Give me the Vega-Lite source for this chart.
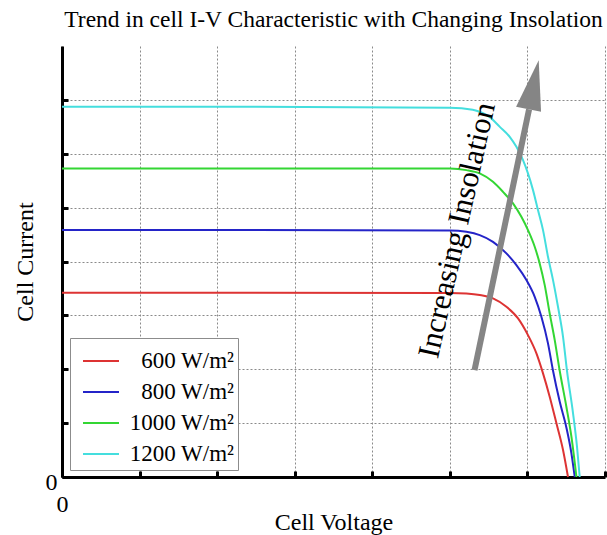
{
  "$schema": "https://vega.github.io/schema/vega-lite/v6.json",
  "width": 543,
  "height": 431,
  "autosize": "none",
  "padding": {"left": 62, "top": 46, "right": 2, "bottom": 58},
  "title": {
    "text": "Trend in cell I-V Characteristic with Changing Insolation",
    "font": "Liberation Serif",
    "fontSize": 23.5,
    "fontWeight": "normal",
    "color": "#000000",
    "anchor": "middle",
    "baseline": "alphabetic",
    "offset": 18,
    "dy": 22
  },
  "config": {
    "font": "Liberation Serif",
    "view": {"stroke": null},
    "axis": {
      "grid": true,
      "gridColor": "#8a8a8a",
      "gridDash": [2, 2],
      "gridWidth": 1,
      "domainColor": "#000000",
      "domainWidth": 3,
      "tickColor": "#000000",
      "tickWidth": 3,
      "tickSize": -6,
      "labelFont": "Liberation Serif",
      "labelFontSize": 24,
      "labelColor": "#000000",
      "labelFlush": false,
      "titleFont": "Liberation Serif",
      "titleFontSize": 24,
      "titleFontWeight": "normal",
      "titleColor": "#000000"
    }
  },
  "datasets": {
    "curves": [
      {"g": "600 W/m²", "v": 0, "i": 3.419},
      {"g": "600 W/m²", "v": 2.5, "i": 3.419},
      {"g": "600 W/m²", "v": 5.0, "i": 3.414},
      {"g": "600 W/m²", "v": 5.213, "i": 3.404},
      {"g": "600 W/m²", "v": 5.385, "i": 3.377},
      {"g": "600 W/m²", "v": 5.556, "i": 3.315},
      {"g": "600 W/m²", "v": 5.729, "i": 3.16},
      {"g": "600 W/m²", "v": 5.879, "i": 2.944},
      {"g": "600 W/m²", "v": 6.007, "i": 2.634},
      {"g": "600 W/m²", "v": 6.116, "i": 2.295},
      {"g": "600 W/m²", "v": 6.201, "i": 1.924},
      {"g": "600 W/m²", "v": 6.287, "i": 1.49},
      {"g": "600 W/m²", "v": 6.374, "i": 0.996},
      {"g": "600 W/m²", "v": 6.459, "i": 0.501},
      {"g": "600 W/m²", "v": 6.523, "i": 0},
      {"g": "800 W/m²", "v": 0, "i": 4.583},
      {"g": "800 W/m²", "v": 2.5, "i": 4.583},
      {"g": "800 W/m²", "v": 5.0, "i": 4.577},
      {"g": "800 W/m²", "v": 5.213, "i": 4.551},
      {"g": "800 W/m²", "v": 5.385, "i": 4.49},
      {"g": "800 W/m²", "v": 5.556, "i": 4.365},
      {"g": "800 W/m²", "v": 5.729, "i": 4.15},
      {"g": "800 W/m²", "v": 5.858, "i": 3.933},
      {"g": "800 W/m²", "v": 5.987, "i": 3.655},
      {"g": "800 W/m²", "v": 6.094, "i": 3.345},
      {"g": "800 W/m²", "v": 6.18, "i": 2.974},
      {"g": "800 W/m²", "v": 6.265, "i": 2.481},
      {"g": "800 W/m²", "v": 6.33, "i": 1.972},
      {"g": "800 W/m²", "v": 6.416, "i": 1.4},
      {"g": "800 W/m²", "v": 6.502, "i": 0.92},
      {"g": "800 W/m²", "v": 6.567, "i": 0.44},
      {"g": "800 W/m²", "v": 6.61, "i": 0},
      {"g": "1000 W/m²", "v": 0, "i": 5.727},
      {"g": "1000 W/m²", "v": 2.5, "i": 5.727},
      {"g": "1000 W/m²", "v": 5.0, "i": 5.724},
      {"g": "1000 W/m²", "v": 5.213, "i": 5.696},
      {"g": "1000 W/m²", "v": 5.385, "i": 5.635},
      {"g": "1000 W/m²", "v": 5.556, "i": 5.479},
      {"g": "1000 W/m²", "v": 5.685, "i": 5.293},
      {"g": "1000 W/m²", "v": 5.814, "i": 5.078},
      {"g": "1000 W/m²", "v": 5.922, "i": 4.829},
      {"g": "1000 W/m²", "v": 6.007, "i": 4.583},
      {"g": "1000 W/m²", "v": 6.094, "i": 4.273},
      {"g": "1000 W/m²", "v": 6.158, "i": 3.965},
      {"g": "1000 W/m²", "v": 6.223, "i": 3.562},
      {"g": "1000 W/m²", "v": 6.287, "i": 3.037},
      {"g": "1000 W/m²", "v": 6.352, "i": 2.542},
      {"g": "1000 W/m²", "v": 6.416, "i": 1.972},
      {"g": "1000 W/m²", "v": 6.502, "i": 1.304},
      {"g": "1000 W/m²", "v": 6.567, "i": 0.748},
      {"g": "1000 W/m²", "v": 6.632, "i": 0},
      {"g": "1200 W/m²", "v": 0, "i": 6.874},
      {"g": "1200 W/m²", "v": 2.5, "i": 6.872},
      {"g": "1200 W/m²", "v": 5.0, "i": 6.855},
      {"g": "1200 W/m²", "v": 5.295, "i": 6.818},
      {"g": "1200 W/m²", "v": 5.4, "i": 6.77},
      {"g": "1200 W/m²", "v": 5.514, "i": 6.68},
      {"g": "1200 W/m²", "v": 5.644, "i": 6.499},
      {"g": "1200 W/m²", "v": 5.772, "i": 6.314},
      {"g": "1200 W/m²", "v": 5.858, "i": 6.128},
      {"g": "1200 W/m²", "v": 5.943, "i": 5.881},
      {"g": "1200 W/m²", "v": 6.007, "i": 5.635},
      {"g": "1200 W/m²", "v": 6.072, "i": 5.325},
      {"g": "1200 W/m²", "v": 6.136, "i": 4.954},
      {"g": "1200 W/m²", "v": 6.201, "i": 4.583},
      {"g": "1200 W/m²", "v": 6.265, "i": 4.087},
      {"g": "1200 W/m²", "v": 6.33, "i": 3.655},
      {"g": "1200 W/m²", "v": 6.394, "i": 3.16},
      {"g": "1200 W/m²", "v": 6.459, "i": 2.603},
      {"g": "1200 W/m²", "v": 6.51, "i": 1.972},
      {"g": "1200 W/m²", "v": 6.588, "i": 1.182},
      {"g": "1200 W/m²", "v": 6.639, "i": 0.562},
      {"g": "1200 W/m²", "v": 6.674, "i": 0}
    ],
    "arrow": [
      {"v0": 5.318, "i0": 1.985, "v1": 6.021, "i1": 6.824, "vh": 6.08, "ih": 7.28, "vt": 5.1, "it": 4.58, "label": "Increasing Insolation"}
    ]
  },
  "layer": [
    {
      "data": {"name": "curves"},
      "mark": {"type": "line", "strokeWidth": 2, "interpolate": "monotone"},
      "encoding": {
        "x": {
          "field": "v",
          "type": "quantitative",
          "scale": {"domain": [0, 7], "nice": false, "zero": false},
          "axis": {
            "values": [0, 1, 2, 3, 4, 5, 6, 7],
            "labelExpr": "datum.value === 0 ? '0' : ''",
            "labelPadding": 21,
            "title": "Cell Voltage",
            "titleBaseline": "middle",
            "titleY": 45
          }
        },
        "y": {
          "field": "i",
          "type": "quantitative",
          "scale": {"domain": [0, 8], "nice": false, "zero": false},
          "axis": {
            "values": [0, 1, 2, 3, 4, 5, 6, 7],
            "labelExpr": "datum.value === 0 ? '0' : ''",
            "labelPadding": 11,
            "labelOffset": 5,
            "labelBaseline": "middle",
            "title": "Cell Current",
            "titleBaseline": "middle",
            "titleX": -37
          }
        },
        "color": {
          "field": "g",
          "type": "nominal",
          "scale": {
            "domain": ["600 W/m²", "800 W/m²", "1000 W/m²", "1200 W/m²"],
            "range": ["#dd3333", "#2424c8", "#33d633", "#44dede"]
          },
          "legend": {
            "title": null,
            "orient": "none",
            "legendX": 8,
            "legendY": 292,
            "direction": "vertical",
            "symbolType": "stroke",
            "symbolSize": 1296,
            "symbolStrokeWidth": 2,
            "labelFont": "Liberation Serif",
            "labelFontSize": 23,
            "labelColor": "#000000",
            "labelAlign": "right",
            "labelOffset": 114,
            "labelLimit": 300,
            "rowPadding": 0,
            "padding": 4,
            "symbolOffset": 8,
            "strokeColor": "#8c8c8c",
            "fillColor": "#ffffff"
          }
        },
        "detail": {"field": "g"}
      }
    },
    {
      "data": {"name": "arrow"},
      "mark": {"type": "rule", "color": "#858585", "strokeWidth": 6},
      "encoding": {
        "x": {"field": "v0", "type": "quantitative"},
        "y": {"field": "i0", "type": "quantitative"},
        "x2": {"field": "v1"},
        "y2": {"field": "i1"}
      }
    },
    {
      "data": {"name": "arrow"},
      "mark": {
        "type": "point",
        "shape": "M0,-1L0.51,1L-0.51,1Z",
        "filled": true,
        "color": "#858585",
        "opacity": 1,
        "size": 2500,
        "angle": 11.7
      },
      "encoding": {
        "x": {"field": "vh", "type": "quantitative"},
        "y": {"field": "ih", "type": "quantitative"}
      }
    },
    {
      "data": {"name": "arrow"},
      "mark": {
        "type": "text",
        "font": "Liberation Serif",
        "fontSize": 31,
        "angle": -77.3,
        "align": "center",
        "baseline": "middle",
        "color": "#000000"
      },
      "encoding": {
        "x": {"field": "vt", "type": "quantitative"},
        "y": {"field": "it", "type": "quantitative"},
        "text": {"field": "label"}
      }
    }
  ]
}
